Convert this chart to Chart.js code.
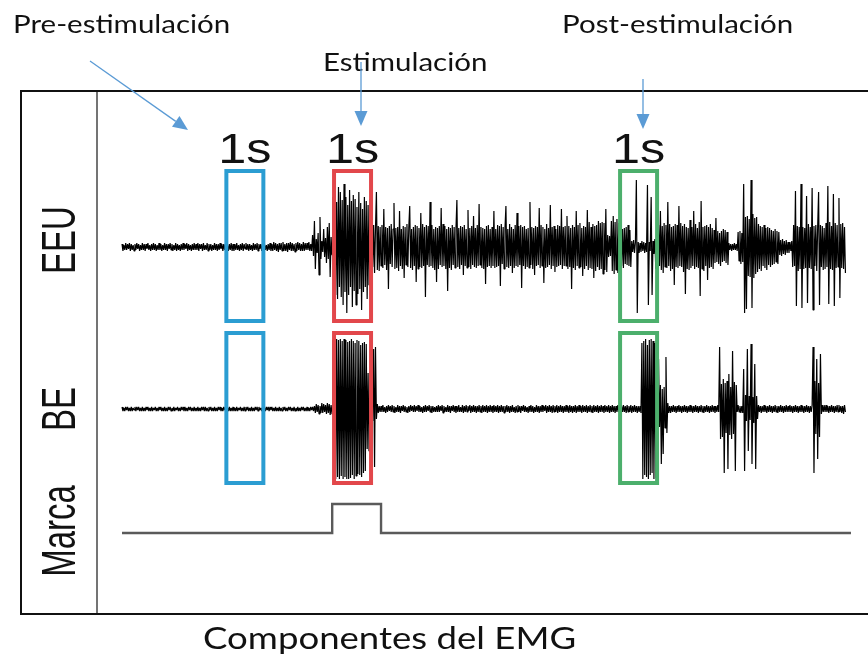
<!DOCTYPE html>
<html lang="es">
<head>
<meta charset="utf-8">
<title>Componentes del EMG</title>
<script src="https://cdn.jsdelivr.net/npm/chart.js@4.4.1/dist/chart.umd.min.js"></script>
<style>
  html, body { margin: 0; padding: 0; background: #fff; }
  canvas { display: block; }
</style>
</head>
<body>
<canvas id="emg" width="868" height="656"></canvas>
<script>
// sample step of both EMG channels (s)
var DT = 0.025;

// EEU channel, one row per second of recording
var eeu = [
  3,-4,2,-3,4,-3,3,-2,4,-4,3,-3,2,-4,3,-3,4,-2,3,-4,2,-3,4,-3,3,-4,3,-2,4,-3,2,-4,3,-3,4,-3,3,-4,2,-3,
  4,-3,3,-4,2,-3,4,-3,3,-4,3,-2,4,-3,3,-4,2,-3,4,-4,3,-3,2,-4,3,-3,4,-3,3,-2,4,-4,3,-3,2,-4,3,-3,4,-3,
  3,-3,4,-4,3,-2,3,-4,4,-3,2,-3,4,-4,3,-3,3,-4,2,-3,4,-3,3,-4,3,-3,4,-2,3,-4,3,-3,4,-3,2,-4,3,-3,4,-4,
  3,-4,3,-3,4,-3,2,-4,3,-3,4,-4,3,-2,4,-3,3,-4,3,-3,2,-4,4,-3,3,-3,4,-4,3,-2,3,-4,4,-3,3,-3,2,-4,3,-3,
  4,-4,3,-4,5,-3,4,-4,3,-5,4,-3,4,-4,5,-4,3,-4,4,-5,4,-3,5,-4,4,-4,3,-5,4,-4,5,-3,4,-4,3,-4,5,-4,4,-3,
  4,-3,5,-4,3,-4,12,-9,26,-22,8,-6,14,-28,30,-12,6,-5,18,-10,9,-16,20,-12,24,-30,10,-8,50,-55,62,-48,45,-52,60,-40,55,-50,47,-58,
  63,-45,50,-66,42,-48,57,-40,46,-60,52,-44,48,-58,40,-47,55,-42,44,-63,38,-45,50,-40,46,-52,42,-38,48,-41,24,-20,22,-26,19,55,-23,21,-24,20,
  -19,22,-21,38,-18,20,-23,19,-42,21,-17,23,-20,18,44,-22,19,-21,20,-24,36,-19,18,-22,21,-31,20,-18,23,-20,19,41,-21,18,-23,20,-19,22,-35,21,
  -22,19,-20,34,-21,23,-19,20,-50,22,-18,21,-20,45,-19,22,-21,18,-23,20,-35,19,-22,21,-18,39,-20,23,-19,21,-22,18,-44,20,-21,19,-23,22,-18,20,
  -21,18,47,-20,19,-22,21,-18,20,-28,22,-19,18,-21,37,-20,19,-22,21,-18,31,-20,19,-21,22,-19,43,-18,20,-21,19,-22,18,-37,21,-20,22,-19,18,-21,
  20,-19,36,-21,18,-20,22,-19,21,-39,23,-17,20,-22,19,41,-20,18,-21,23,-19,20,-26,18,-21,22,-19,34,-20,21,-18,22,-41,20,-19,21,-22,18,-20,19,
  -21,45,-18,20,-22,19,-28,21,-19,20,-18,39,-21,22,-19,20,-36,18,-21,23,-20,19,-18,42,-22,20,-19,21,-25,18,-20,22,-19,21,-18,38,-22,20,-19,21,
  -19,31,-22,21,-20,19,-42,22,-21,20,-23,36,-19,22,-21,24,-20,19,-29,21,-22,20,-19,37,-23,25,-21,20,-22,23,-31,21,-24,22,-20,26,-23,24,-22,25,
  -27,24,-23,38,-25,12,-10,11,-9,26,-24,31,-27,25,-23,28,-26,24,-22,20,-19,18,-21,19,-17,20,-18,22,-19,17,-20,6,-5,7,-6,5,67,-66,5,-6,
  4,-5,6,-4,5,-6,4,-5,62,-58,5,-4,50,-48,6,-7,8,-22,20,-25,22,-19,36,-23,21,-26,24,-20,22,-21,45,-19,23,-24,20,-22,21,-38,23,-20,
  22,-21,41,-19,24,-20,21,-25,23,-47,20,-22,19,-23,27,-21,20,-19,36,-22,23,-20,19,-21,25,-49,46,-22,20,-24,21,-19,22,-33,20,-21,23,-20,19,-22,
  17,-16,29,-15,16,-17,14,-19,16,-15,18,-14,17,-16,15,-18,4,-3,3,-4,3,-3,4,-3,3,-4,15,-14,16,-17,14,-15,63,-66,30,-62,31,-29,28,-30,
  67,-61,33,-31,29,-27,30,-25,23,-22,21,-24,20,-19,22,-21,19,-23,20,-18,19,-20,17,-18,16,-17,18,-15,16,-17,15,-8,7,-9,8,-7,6,-8,7,-6,
  5,-6,5,-4,6,-20,22,-19,56,-59,21,-24,20,-22,63,-61,20,-22,19,-21,51,-56,23,-21,20,-22,59,-63,21,-19,22,-24,20,55,-58,22,-20,21,-23,19,
  -22,24,-20,61,-57,25,-22,21,-23,53,-59,24,-21,22,-20,49,-51,23,-21,24,-22,20,-26
];

// BE channel, same sampling
var be = [
  2,-2,1,-2,2,-1,2,-2,1,-2,2,-2,1,-1,2,-2,2,-1,2,-2,1,-2,2,-2,1,-2,2,-1,2,-2,1,-2,2,-2,1,-1,2,-2,1,-2,
  2,-1,2,-2,1,-2,2,-2,1,-2,2,-1,2,-2,1,-2,2,-2,1,-1,2,-2,1,-2,2,-1,2,-2,2,-2,1,-2,2,-1,2,-2,1,-2,2,-2,
  1,-2,2,-2,1,-2,2,-1,2,-2,2,-2,1,-2,2,-1,2,-2,1,-2,2,-2,1,-2,2,-1,2,-2,1,-2,2,-1,2,-2,1,-2,2,-2,1,-2,
  2,-2,1,-2,2,-2,1,-1,2,-2,1,-2,2,-2,2,-1,2,-2,1,-2,2,-2,1,-2,2,-1,2,-2,2,-1,1,-2,2,-2,1,-2,2,-1,2,-2,
  2,-1,2,-2,1,-2,2,-2,1,-2,2,-2,1,-2,2,-1,2,-2,1,-2,2,-1,2,-2,1,-2,2,-2,1,-2,2,-2,1,-2,2,-1,2,-2,1,-2,
  2,-2,1,-2,2,-1,2,-2,3,-4,5,-3,4,-5,3,-4,6,-4,5,-3,4,-5,6,-4,5,-6,4,-5,69,-70,68,-70,70,-68,69,-70,70,-67,68,-70,
  70,-68,69,-70,67,-70,68,-69,70,-66,68,-70,66,-67,69,-65,68,-66,64,-68,66,-64,67,-62,65,-40,36,-42,38,-35,44,-12,60,-58,62,-10,5,-4,3,-3,
  3,-3,4,-3,2,-4,3,-3,4,-2,3,-3,4,-3,3,-4,2,-3,4,-3,3,-4,3,-2,4,-3,3,-3,2,-4,3,-3,4,-2,3,-3,4,-3,3,-2,
  4,-3,3,-3,2,-4,3,-3,4,-3,3,-2,4,-3,3,-4,3,-3,2,-3,3,-3,4,-3,3,-2,4,-4,3,-3,2,-3,4,-3,3,-4,3,-2,4,-3,
  3,-4,3,-3,4,-3,2,-3,4,-4,3,-3,4,-3,3,-2,4,-4,3,-3,4,-3,3,-4,3,-3,4,-3,3,-4,4,-3,3,-3,4,-4,3,-3,4,-3,
  3,-4,4,-3,3,-3,4,-4,3,-3,4,-3,3,-4,3,-3,4,-3,3,-4,3,-3,4,-3,2,-4,3,-3,4,-3,3,-4,3,-2,4,-3,3,-3,2,-4,
  3,-3,4,-3,3,-4,2,-3,4,-3,3,-4,3,-3,4,-3,3,-2,4,-4,3,-3,4,-3,3,-4,4,-3,3,-3,4,-4,3,-3,4,-3,3,-4,3,-3,
  4,-3,3,-4,4,-3,3,-4,3,-3,4,-4,3,-3,4,-3,3,-4,4,-3,3,-3,4,-4,3,-3,4,-3,3,-4,4,-3,3,-3,4,-4,3,-3,4,-3,
  3,-4,4,-3,3,-3,4,-4,3,-3,4,-3,3,-4,3,-3,4,-3,3,-4,3,-3,4,-3,3,-4,4,-3,3,-3,4,-4,3,-3,4,-3,3,-4,3,-3,
  3,-4,66,-70,68,-66,70,-68,64,-70,69,-66,70,-64,68,-70,66,-69,67,-22,50,-18,24,-55,20,-45,22,-19,52,-24,6,-4,3,-4,3,-3,4,-3,3,-4,
  3,-3,4,-3,3,-4,3,-3,4,-3,3,-4,3,-3,4,-3,3,-4,3,-3,4,-3,3,-4,3,-3,4,-3,3,-4,3,-3,4,-3,3,-4,3,-3,4,-3,
  3,-4,3,-3,4,-3,62,-30,25,-28,30,-64,26,-24,28,-60,35,-26,22,-30,58,-25,27,-62,24,-3,4,-3,3,-4,3,-4,40,-62,14,-12,60,-42,13,-11,
  65,-55,12,-14,45,-60,13,-10,4,-3,3,-4,3,-3,4,-3,3,-4,3,-3,4,-3,3,-4,3,-3,4,-3,3,-4,3,-3,4,-3,3,-4,3,-3,4,-3,
  3,-3,4,-3,3,-4,3,-3,4,-3,3,-4,3,-3,4,-3,3,-4,3,-3,4,-3,3,-4,3,-3,4,62,-64,28,-25,50,-50,26,-28,55,-5,4,-3,4,
  -3,4,-3,3,-4,3,-3,4,-3,3,-4,3,-3,4,-3,4,-3,3,-4,3,-5,4,-3
];

// stimulus marker (on/off)
var marcaTimes = [0, 5.68, 5.68, 7.0, 7.0, 19.7];
var marcaLevels = [0, 0, 1, 1, 0, 0];

// 1 s analysis windows: pre, during and post stimulation
var WINDOW_LEN = 1;
var windowStarts = [2.82, 5.73, 13.46];
var windowColors = ['#2b9dd2', '#e2474b', '#4caf6c'];

var trackNames = ['EEU', 'BE', 'Marca'];

// vertical layout of the tracks (axis units)
var EEU_BASE = 366, BE_BASE = 204, MARCA_BASE = 80, MARCA_GAIN = 29;
var trackLabelAt = [373, 204, 82];

function trace(values, base) {
  return values.map(function (v, i) { return { x: i * DT, y: base + v }; });
}

function stretchText(ctx, text, x, y, font, sx, align) {
  ctx.save();
  ctx.translate(x, y);
  ctx.scale(sx, 1);
  ctx.font = font;
  ctx.textAlign = align || 'left';
  ctx.textBaseline = 'alphabetic';
  ctx.fillStyle = '#111';
  ctx.fillText(text, 0, 0);
  ctx.restore();
}

function arrow(ctx, x1, y1, x2, y2) {
  var a = Math.atan2(y2 - y1, x2 - x1), len = 15, half = 6.5;
  var bx = x2 - len * Math.cos(a), by = y2 - len * Math.sin(a);
  ctx.save();
  ctx.strokeStyle = ctx.fillStyle = '#5b9bd5';
  ctx.lineWidth = 1.3;
  ctx.beginPath();
  ctx.moveTo(x1, y1);
  ctx.lineTo(bx, by);
  ctx.stroke();
  ctx.beginPath();
  ctx.moveTo(x2, y2);
  ctx.lineTo(bx + half * Math.sin(a), by - half * Math.cos(a));
  ctx.lineTo(bx - half * Math.sin(a), by + half * Math.cos(a));
  ctx.closePath();
  ctx.fill();
  ctx.restore();
}

var notes = [
  { text: 'Pre-estimulación', x: 13, y: 33, from: [90, 61], to: [188, 130] },
  { text: 'Estimulación', x: 323, y: 71, from: [361, 62], to: [361, 126] },
  { text: 'Post-estimulación', x: 562, y: 33, from: [643, 79], to: [643, 129] }
];

var figureParts = {
  id: 'figureParts',
  afterDatasetsDraw: function (chart) {
    var ctx = chart.ctx, x = chart.scales.x, y = chart.scales.y;
    windowStarts.forEach(function (t0, k) {
      var left = x.getPixelForValue(t0), right = x.getPixelForValue(t0 + WINDOW_LEN);
      ctx.save();
      ctx.strokeStyle = windowColors[k];
      ctx.lineWidth = 4;
      [EEU_BASE, BE_BASE].forEach(function (base) {
        var top = y.getPixelForValue(base + 76), bottom = y.getPixelForValue(base - 74);
        ctx.strokeRect(left, top, right - left, bottom - top);
      });
      ctx.restore();
      stretchText(ctx, WINDOW_LEN + 's', (left + right) / 2, y.getPixelForValue(EEU_BASE + 84),
        '42px "Liberation Sans"', 1.2, 'center');
    });
  },
  afterDraw: function (chart) {
    var ctx = chart.ctx, y = chart.scales.y, area = chart.chartArea;

    // outer frame, open on the right
    ctx.save();
    ctx.strokeStyle = '#111';
    ctx.lineWidth = 2;
    ctx.beginPath();
    ctx.moveTo(chart.width, area.top - 1);
    ctx.lineTo(y.left + 1, area.top - 1);
    ctx.lineTo(y.left + 1, area.bottom + 1);
    ctx.lineTo(chart.width, area.bottom + 1);
    ctx.stroke();
    ctx.restore();

    // channel names, rotated
    trackNames.forEach(function (name, k) {
      ctx.save();
      ctx.translate(y.left + 42, y.getPixelForValue(trackLabelAt[k]));
      ctx.rotate(-Math.PI / 2);
      ctx.scale(1, 1.45);
      ctx.font = '33px "Liberation Sans"';
      ctx.textAlign = 'center';
      ctx.textBaseline = 'middle';
      ctx.fillStyle = '#111';
      ctx.fillText(name, 0, 0);
      ctx.restore();
    });

    notes.forEach(function (n) {
      stretchText(ctx, n.text, n.x, n.y, '25px Lato', 1.18);
      arrow(ctx, n.from[0], n.from[1], n.to[0], n.to[1]);
    });

    stretchText(ctx, 'Componentes del EMG', 203, 649, '31px Lato', 1.18);
  }
};

new Chart(document.getElementById('emg'), {
  type: 'line',
  data: {
    datasets: [
      {
        label: 'EEU',
        data: trace(eeu, EEU_BASE),
        borderColor: '#000',
        borderWidth: 1.2,
        borderJoinStyle: 'bevel'
      },
      {
        label: 'BE',
        data: trace(be, BE_BASE),
        borderColor: '#000',
        borderWidth: 1.2,
        borderJoinStyle: 'bevel'
      },
      {
        label: 'Marca',
        data: marcaTimes.map(function (t, i) {
          return { x: t, y: MARCA_BASE + MARCA_GAIN * marcaLevels[i] };
        }),
        borderColor: '#5a5a5a',
        borderWidth: 2.4
      }
    ]
  },
  options: {
    responsive: false,
    animation: false,
    layout: { padding: { left: 20, top: 92, right: 0, bottom: 43 } },
    elements: { point: { radius: 0 }, line: { tension: 0 } },
    plugins: { legend: { display: false }, tooltip: { enabled: false } },
    scales: {
      x: { type: 'linear', min: -0.676, max: 20.16, display: false },
      y: {
        min: 0,
        max: 521,
        afterFit: function (scale) { scale.width = 77; },
        grid: { display: false, drawTicks: false },
        border: { display: true, color: '#747474', width: 2 },
        ticks: { display: false }
      }
    }
  },
  plugins: [figureParts]
});
</script>
</body>
</html>
